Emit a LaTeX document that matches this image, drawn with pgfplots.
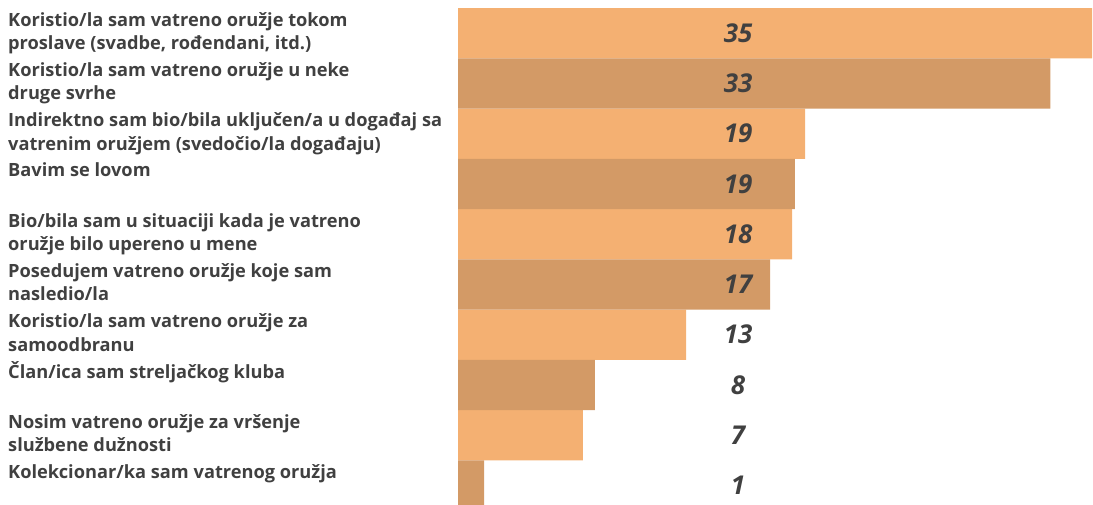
\documentclass[border=0pt]{standalone}
\usepackage{pgfplots}
\pgfplotsset{compat=1.18}
\usepackage{fontspec}
\setmainfont{Open Sans}
\definecolor{svetla}{HTML}{F4B072}
\definecolor{tamna}{HTML}{D39A66}
\definecolor{tekst}{HTML}{404040}
\newcommand{\lab}{\fontsize{18.3}{23.5}\selectfont\bfseries\color{tekst}}

\begin{document}
\begin{tikzpicture}
\useasboundingbox (0,0) rectangle (1093bp,505bp);
\begin{axis}[at={(458bp,497bp)},anchor=north west,width=634bp,height=502.5bp,scale only axis,
 xmin=0,xmax=35,ymin=-0.5,ymax=9.5,y dir=reverse,hide axis,clip=false,bar width=1]
 % redovi 0,2,4,6,8 svetli; 1,3,5,7,9 tamni
 \addplot[xbar,bar shift=0pt,fill=svetla,draw=none] coordinates {(35,0) (19.16,2) (18.44,4) (12.59,6) (6.9,8)};
 \addplot[xbar,bar shift=0pt,fill=tamna,draw=none] coordinates {(32.7,1) (18.6,3) (17.23,5) (7.56,7) (1.44,9)};
 \addplot[only marks,mark=none,nodes near coords,point meta=explicit symbolic,
  nodes near coords style={anchor=center,font=\fontsize{26}{30}\selectfont\bfseries\itshape,text=tekst}]
  coordinates {(15.46,0)[35] (15.46,1)[33] (15.46,2)[19] (15.46,3)[19] (15.46,4)[18]
   (15.46,5)[17] (15.46,6)[13] (15.46,7)[8] (15.46,8)[7] (15.46,9)[1]};
 \tikzset{lbl/.style={anchor=north west,align=left,inner sep=0pt,font=\lab}}
 \node[lbl] at ([xshift=-450bp]axis cs:0,-0.47) {\strut Koristio/la sam vatreno oružje tokom\\proslave (svadbe, rođendani, itd.)};
 \node[lbl] at ([xshift=-450bp]axis cs:0,0.53) {\strut Koristio/la sam vatreno oružje u neke\\druge svrhe};
 \node[lbl] at ([xshift=-450bp]axis cs:0,1.53) {\strut Indirektno sam bio/bila uključen/a u događaj sa\\vatrenim oružjem (svedočio/la događaju)};
 \node[lbl] at ([xshift=-450bp]axis cs:0,2.53) {\strut Bavim se lovom};
 \node[lbl] at ([xshift=-450bp]axis cs:0,3.53) {\strut Bio/bila sam u situaciji kada je vatreno\\oružje bilo upereno u mene};
 \node[lbl] at ([xshift=-450bp]axis cs:0,4.53) {\strut Posedujem vatreno oružje koje sam\\nasledio/la};
 \node[lbl] at ([xshift=-450bp]axis cs:0,5.53) {\strut Koristio/la sam vatreno oružje za\\samoodbranu};
 \node[lbl] at ([xshift=-450bp]axis cs:0,6.53) {\strut Član/ica sam streljačkog kluba};
 \node[lbl] at ([xshift=-450bp]axis cs:0,7.53) {\strut Nosim vatreno oružje za vršenje\\službene dužnosti};
 \node[lbl] at ([xshift=-450bp]axis cs:0,8.53) {\strut Kolekcionar/ka sam vatrenog oružja};
\end{axis}
\end{tikzpicture}
\end{document}
